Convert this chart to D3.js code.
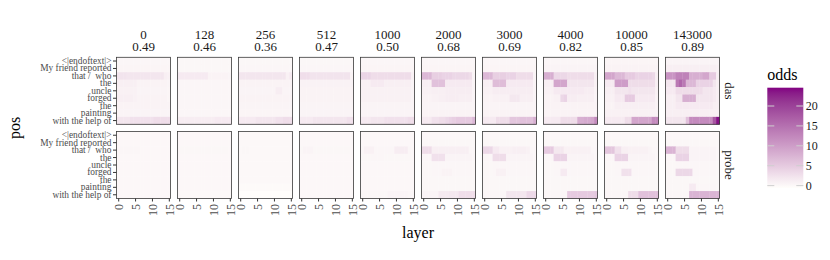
<!DOCTYPE html>
<html><head><meta charset="utf-8">
<script src="https://cdn.jsdelivr.net/npm/d3@7"></script>
<style>
body{margin:0;background:#fff}
text{font-family:"Liberation Serif","Times New Roman",serif}
</style>
</head><body>
<svg id="chart" width="830" height="260"></svg>
<script>
// ---------------- data ----------------
const steps = ["0","128","256","512","1000","2000","3000","4000","10000","143000"];
const accuracy = ["0.49","0.46","0.36","0.47","0.50","0.68","0.69","0.82","0.85","0.89"];
const methods = ["das","probe"];
const positions = ["<|endoftext|>","My friend reported","that /\u00a0 who","the","uncle","forged","the","painting","with the help of"];
const layers = [0,1,2,3,4,5,6,7,8,9,10,11,12,13,14,15];
const layerTicks = [0,5,10,15];
const legendTicks = [0,5,10,15,20];
const oddsRange = [-0.6, 24.6];

// das rows (9 positions x 16 layers)
const das_0 = [
 [0.3,0.3,0.3,0.3,0.3,0.3,0.3,0.3,0.3,0.3,0.3,0.3,0.3,0.3,0.3,0.3],
 [0.4,0.4,0.4,0.4,0.4,0.4,0.4,0.4,0.4,0.4,0.4,0.4,0.4,0.4,0.4,0.4],
 [2.2,2.2,2.2,2,2,2,2,2,2,2,2,2,2,2,1,0.8],
 [1,1,1,1,1,1,0.6,0.6,0.6,0.6,0.6,0.6,0.6,0.6,0.6,0.5],
 [0.8,0.8,0.8,0.8,0.8,0.8,0.5,0.5,0.5,0.5,0.5,0.5,0.5,0.5,0.5,0.4],
 [1,1,1,1,1,0.8,0.6,0.6,0.6,0.6,0.6,0.6,0.6,0.6,0.6,0.4],
 [0.6,0.6,0.6,0.6,0.6,0.6,0.6,0.6,0.6,0.6,0.6,0.6,0.6,0.6,0.6,0.6],
 [0.5,0.5,0.5,0.5,0.5,0.5,0.5,0.5,0.5,0.5,0.5,0.5,0.5,0.5,0.5,0.5],
 [2,2,2,2,2.5,2.5,2.5,2.5,2.5,2.5,2.5,3,3,3,3,3]
];
const das_128 = [
 [0.2,0.2,0.2,0.2,0.2,0.2,0.2,0.2,0.2,0.2,0.2,0.2,0.2,0.2,0.2,0.2],
 [0.2,0.2,0.2,0.2,0.2,0.2,0.2,0.2,0.2,0.2,0.2,0.2,0.2,0.2,0.2,0.2],
 [1.5,1.5,1.5,1.5,1.5,1.5,1.5,1.5,1.5,0.6,0.6,0.6,0.6,0.6,0.6,0.5],
 [0.3,0.3,0.3,0.3,0.3,0.3,0.3,0.3,0.3,0.3,0.3,0.3,0.3,0.3,0.3,0.3],
 [0.3,0.3,0.3,0.3,0.3,0.3,0.3,0.3,0.3,0.3,0.3,0.3,0.3,0.3,0.3,0.3],
 [0.3,0.3,0.3,0.3,0.3,0.3,0.3,0.3,0.3,0.3,0.3,0.3,0.3,0.3,0.3,0.3],
 [0.3,0.3,0.3,0.3,0.3,0.3,0.3,0.3,0.3,0.3,0.3,0.3,0.3,0.3,0.3,0.3],
 [0.3,0.3,0.3,0.3,0.3,0.3,0.3,0.3,0.3,0.3,0.3,0.3,0.3,0.3,0.3,0.3],
 [1.2,1.2,1.2,1.2,1.2,1.2,1.2,1.2,1.2,1.2,1.2,1.5,1.5,1.5,1.5,1.5]
];
const das_256 = [
 [0.2,0.2,0.2,0.2,0.2,0.2,0.2,0.2,0.2,0.2,0.2,0.2,0.2,0.2,0.2,0.2],
 [0.3,0.3,0.3,0.3,0.3,0.3,0.3,0.3,0.3,0.3,0.3,0.3,0.3,0.3,0.3,0.3],
 [2,2,2,2,2,2,2,2,2,2,2,2,2,2,0.8,1.5],
 [0.6,0.6,0.6,0.6,0.6,0.6,0.6,0.6,0.6,0.6,0.6,0.6,0.6,0.6,0.6,0.6],
 [0.5,0.5,0.5,0.5,0.5,0.5,0.5,0.5,0.5,0.5,0.5,1.2,1.2,0.5,0.5,0.5],
 [0.6,0.6,0.6,0.6,0.6,0.6,0.6,0.6,0.6,0.6,0.6,0.6,0.6,0.6,0.6,0.6],
 [0.5,0.5,0.5,0.5,0.5,0.5,0.5,0.5,0.5,0.5,0.5,0.5,0.5,0.5,0.5,0.5],
 [0.4,0.4,0.4,0.4,0.4,0.4,0.4,0.4,0.4,0.4,0.4,0.4,0.4,0.4,0.4,0.4],
 [1.5,1.5,1.5,1.5,1.5,2,2,2,2,2,2,2.5,2.5,3,3,3]
];
const das_512 = [
 [0.2,0.2,0.2,0.2,0.2,0.2,0.2,0.2,0.2,0.2,0.2,0.2,0.2,0.2,0.2,0.2],
 [0.3,0.3,0.3,0.3,0.3,0.3,0.3,0.3,0.3,0.3,0.3,0.3,0.3,0.3,0.3,0.3],
 [2.8,2.8,2.8,2.2,2.2,2.2,2.2,2.2,2.2,2.2,2.2,2.2,2.2,2.2,2.2,0.6],
 [0.7,0.7,0.7,0.7,0.7,0.7,0.7,0.7,0.7,0.7,0.7,0.7,0.7,0.7,0.7,0.7],
 [0.6,0.6,0.6,0.6,0.6,0.6,0.6,0.6,0.6,0.6,0.6,0.6,0.6,0.6,0.6,0.6],
 [0.6,0.6,0.6,0.6,0.6,0.6,0.6,0.6,0.6,0.6,0.6,0.6,0.6,0.6,0.6,0.6],
 [0.5,0.5,0.5,0.5,0.5,0.5,0.5,0.5,0.5,0.5,0.5,0.5,0.5,0.5,0.5,0.5],
 [0.5,0.5,0.5,0.5,0.5,0.5,0.5,0.5,0.5,0.5,0.5,0.5,0.5,0.5,0.5,0.5],
 [1.5,1.5,1.5,1.5,2,2,2,2,2,2,2,2,2,2,2.5,2.5]
];
const das_1000 = [
 [0.3,0.3,0.3,0.3,0.3,0.3,0.3,0.3,0.3,0.3,0.3,0.3,0.3,0.3,0.3,0.3],
 [0.4,0.4,0.4,0.4,0.4,0.4,0.4,0.4,0.4,0.4,0.4,0.4,0.4,0.4,0.4,0.4],
 [3.8,3.8,3.8,3,3,3,3,3,3,3,3,3,3,3,3,0.8],
 [0.8,0.8,0.8,1.5,1.5,1.5,1.5,1,1,1,1,1,1,1,1,0.5],
 [0.8,0.8,0.8,0.8,0.8,0.8,0.8,0.8,0.8,0.8,0.8,0.8,0.8,0.8,0.8,0.5],
 [0.8,0.8,0.8,0.8,0.8,0.8,0.8,0.8,0.8,0.8,0.8,0.8,0.8,0.8,0.8,0.5],
 [0.5,0.5,0.5,0.5,0.5,0.5,0.5,0.5,0.5,0.5,0.5,0.5,0.5,0.5,0.5,0.5],
 [0.5,0.5,0.5,0.5,0.5,0.5,0.5,0.5,0.5,0.5,0.5,0.5,0.5,0.5,0.5,0.5],
 [1.5,1.5,1.5,2,2,2,2,2.5,2.5,2.5,2.5,2.5,2.5,2.5,3,3]
];
const das_2000 = [
 [0.3,0.3,0.3,0.3,0.3,0.3,0.3,0.3,0.3,0.3,0.3,0.3,0.3,0.3,0.3,0.3],
 [0.4,0.4,0.4,0.4,0.4,0.4,0.4,0.4,0.4,0.4,0.4,0.4,0.4,0.4,0.4,0.4],
 [7,7,7,4.5,4.5,4.5,4,4,4,3.5,3.5,3.5,3.5,3.5,3,0.5],
 [1,1,1,6,6,6,6,1.5,1.5,1.5,1.5,1.5,1.5,1.5,1.5,0.5],
 [0.8,0.8,0.8,1,1,1,1,1.2,1.2,1.2,1.2,1.2,1.2,1.2,1.2,0.5],
 [0.6,0.6,0.6,0.8,0.8,1,1,1.2,1.2,1.2,1.2,1,1,1,1,0.5],
 [0.5,0.5,0.5,0.5,0.5,0.5,0.5,0.5,0.5,0.5,0.5,0.5,0.5,0.5,0.5,0.5],
 [0.6,0.6,0.6,0.6,0.6,0.6,0.6,0.6,0.6,0.6,0.6,0.6,0.6,0.6,0.6,0.6],
 [1.5,1.5,1.5,2.5,2.5,3,3,3.5,4,4.5,5,5,5,5,5,7]
];
const das_3000 = [
 [0.3,0.3,0.3,0.3,0.3,0.3,0.3,0.3,0.3,0.3,0.3,0.3,0.3,0.3,0.3,0.3],
 [0.4,0.4,0.4,0.4,0.4,0.4,0.4,0.4,0.4,0.4,0.4,0.4,0.4,0.4,0.4,0.4],
 [7,7,7,4.5,4.5,4.5,4.5,4,4,4,3,3,3,3,3,0.5],
 [1,1,1,6.5,6.5,6.5,6.5,1.5,1.5,1.5,1.5,1.5,1.5,1.5,1.5,0.5],
 [0.8,0.8,0.8,1.2,1.2,1.2,1.2,1.2,1.2,1.2,1.2,1.2,1.2,1.2,1.2,0.5],
 [0.6,0.6,0.6,0.8,0.8,0.8,0.8,0.8,1.8,1.8,1.8,1,1,1,1,0.5],
 [0.5,0.5,0.5,0.5,0.5,0.5,0.5,0.5,0.5,0.5,0.5,0.5,0.5,0.5,0.5,0.5],
 [0.6,0.6,0.6,0.6,0.6,0.6,0.6,0.6,0.6,0.6,0.6,0.6,0.6,0.6,0.6,0.6],
 [1.5,1.5,1.5,1.5,3,3,3,3,5.5,5.5,5.5,6,6,6,6,8]
];
const das_4000 = [
 [0.3,0.3,0.3,0.3,0.3,0.3,0.3,0.3,0.3,0.3,0.3,0.3,0.3,0.3,0.3,0.3],
 [0.5,0.5,0.5,0.5,0.5,0.5,0.5,0.5,0.5,0.5,0.5,0.5,0.5,0.5,0.5,0.5],
 [8,8,8,3.5,3.5,3.5,3.5,3,3,3,3,3,3,3,3,1],
 [1,1,1,9,9,9,9,2,2,2,2,2,2,2,2,0.8],
 [0.8,0.8,0.8,1.5,1.5,1.5,1.5,1.5,1.5,1.5,1.5,1.5,1.2,1.2,1.2,0.6],
 [0.6,0.6,0.6,0.8,0.8,3.5,4,1.2,1.2,1.2,1,1,1,1,1,0.5],
 [0.6,0.6,0.6,0.6,0.6,0.6,0.6,0.6,0.6,0.6,0.6,0.6,0.6,0.6,0.6,0.6],
 [0.6,0.6,0.6,0.6,0.6,0.6,0.6,0.6,0.6,0.6,0.6,0.6,0.6,0.6,0.6,0.6],
 [1.5,1.5,1.5,1.5,1.5,3,3,3,3,3,8,8,8.5,8.5,9,12]
];
const das_10000 = [
 [0.4,0.4,0.4,0.4,0.4,0.4,0.4,0.4,0.4,0.4,0.4,0.4,0.4,0.4,0.4,0.4],
 [0.6,0.6,0.6,0.6,0.6,0.6,0.6,0.6,0.6,0.6,0.6,0.6,0.6,0.6,0.6,0.6],
 [9,9,9,7,7,7,5,5,5,4,4,4,4,4,3.5,1],
 [1.5,1.5,1.5,10,10,10,10,3,3,3,3,3,3,3,3,1],
 [1,1,1,2,2,2,2,2.5,2,2,2,2,2,2,2,0.8],
 [0.8,0.8,0.8,1.5,1.5,1.5,5,5,5,1.5,1.5,1.5,1.5,1.5,1.5,0.6],
 [0.6,0.6,0.6,1,1,1,1,1,1,1,1,1,1,1,1,0.6],
 [0.8,0.8,0.8,0.8,0.8,0.8,0.8,0.8,0.8,0.8,0.8,0.8,0.8,0.8,0.8,0.8],
 [1.5,1.5,1.5,1.5,1.5,1.5,3,3,9,9,9,9,9,9,12,12]
];
const das_143000 = [
 [0.5,0.5,0.5,0.5,0.5,0.5,0.5,0.5,0.5,0.5,0.5,0.5,0.5,0.5,0.5,0.5],
 [1,1,1,1,1,1,1,1,1,1,1,1,1,1,1,0.8],
 [11,11,11,13,13,13,13,8,8,8,8,9,9,5,5,1],
 [2,2,2,14,16,14,7,7,7,4,4,4,4,4,2,1],
 [1.5,1.5,1.5,3,3,3,3,3,3,3,3,2,2,2,1.5,1],
 [1,1,1,2,2,8,8,8,8,2,2,2,2,2,1.5,1],
 [1,1,1,1.5,1.5,1.5,1.5,1.5,1.5,1.5,1.5,1.5,1.5,1.5,1,1],
 [1,1,1,1,1,1,1,1,1,1,1,1,1,1,1,1],
 [2,2,2,2,2,2,6,12,12,12,12,12,12,12,18,24]
];

// probe rows (9 positions x 16 layers)
const probe_0 = [
 [0.1,0.1,0.1,0.1,0.1,0.1,0.1,0.1,0.1,0.1,0.1,0.1,0.1,0.1,0.1,0.1],
 [0.1,0.1,0.1,0.1,0.1,0.1,0.1,0.1,0.1,0.1,0.1,0.1,0.1,0.1,0.1,0.1],
 [0.1,0.3,0.3,0.3,0.3,0.3,0.3,0.1,0.1,0.1,0.1,0.1,0.1,0.1,0.1,0.1],
 [0.1,0.1,0.1,0.1,0.1,0.1,0.1,0.1,0.1,0.1,0.1,0.1,0.1,0.1,0.1,0.1],
 [0.1,0.1,0.1,0.1,0.1,0.1,0.1,0.1,0.1,0.1,0.1,0.1,0.1,0.1,0.1,0.1],
 [0.1,0.1,0.1,0.1,0.1,0.1,0.1,0.1,0.1,0.1,0.1,0.1,0.1,0.1,0.1,0.1],
 [0.1,0.1,0.1,0.1,0.1,0.1,0.1,0.1,0.1,0.1,0.1,0.1,0.1,0.1,0.1,0.1],
 [0.1,0.1,0.1,0.1,0.1,0.1,0.1,0.1,0.1,0.1,0.1,0.1,0.1,0.1,0.1,0.1],
 [0.1,0.1,0.1,0.1,0.1,0.1,0.1,0.1,0.1,0.1,0.1,0.1,0.1,0.1,0.1,0.1]
];
const probe_128 = [
 [0.1,0.1,0.1,0.1,0.1,0.1,0.1,0.1,0.1,0.1,0.1,0.1,0.1,0.1,0.1,0.1],
 [0.1,0.1,0.1,0.1,0.1,0.1,0.1,0.1,0.1,0.1,0.1,0.1,0.1,0.1,0.1,0.1],
 [0.2,0.2,0.2,0.2,0.2,0.2,0.2,0.2,0.2,0.2,0.2,0.2,0.2,0.2,0.2,0.1],
 [0.1,0.1,0.1,0.1,0.1,0.1,0.1,0.1,0.1,0.1,0.1,0.1,0.1,0.1,0.1,0.1],
 [0.1,0.1,0.1,0.1,0.1,0.1,0.1,0.1,0.1,0.1,0.1,0.1,0.1,0.1,0.1,0.1],
 [0.1,0.1,0.1,0.1,0.1,0.1,0.1,0.1,0.1,0.1,0.1,0.1,0.1,0.1,0.1,0.1],
 [0.1,0.1,0.1,0.1,0.1,0.1,0.1,0.1,0.1,0.1,0.1,0.1,0.1,0.1,0.1,0.1],
 [0.1,0.1,0.1,0.1,0.1,0.1,0.1,0.1,0.1,0.1,0.1,0.1,0.1,0.1,0.1,0.1],
 [0.0,0.0,0.0,0.0,0.0,0.0,0.0,0.0,0.0,0.0,0.0,0.0,0.0,0.0,0.0,0.0]
];
const probe_256 = [
 [0.0,0.0,0.0,0.0,0.0,0.0,0.0,0.0,0.0,0.0,0.0,0.0,0.0,0.0,0.0,0.0],
 [0.0,0.0,0.0,0.0,0.0,0.0,0.0,0.0,0.0,0.0,0.0,0.0,0.0,0.0,0.0,0.0],
 [0.0,0.2,0.2,0.0,0.0,0.0,0.0,0.0,0.0,0.0,0.0,0.0,0.0,0.0,0.0,0.0],
 [0.0,0.0,0.0,0.0,0.0,0.0,0.0,0.0,0.0,0.0,0.0,0.0,0.0,0.0,0.0,0.0],
 [0.0,0.0,0.0,0.0,0.0,0.0,0.0,0.0,0.0,0.0,0.0,0.0,0.0,0.0,0.0,0.0],
 [0.0,0.0,0.0,0.0,0.0,0.0,0.0,0.0,0.0,0.0,0.0,0.0,0.0,0.0,0.0,0.0],
 [0.0,0.0,0.0,0.0,0.0,0.0,0.0,0.0,0.0,0.0,0.0,0.0,0.0,0.0,0.0,0.0],
 [-0.2,-0.2,-0.2,-0.2,-0.2,-0.2,-0.2,-0.2,-0.2,-0.2,-0.2,-0.2,-0.2,-0.2,-0.2,-0.2],
 [-0.5,-0.5,-0.5,-0.5,-0.5,-0.5,-0.5,-0.5,-0.5,-0.5,-0.5,-0.5,-0.5,-0.5,-0.5,-0.5]
];
const probe_512 = [
 [0.1,0.1,0.1,0.1,0.1,0.1,0.1,0.1,0.1,0.1,0.1,0.1,0.1,0.1,0.1,0.1],
 [0.1,0.1,0.1,0.1,0.1,0.1,0.1,0.1,0.1,0.1,0.1,0.1,0.1,0.1,0.1,0.1],
 [0.2,0.5,0.5,0.5,0.2,0.2,0.2,0.2,0.2,0.2,0.2,0.2,0.2,0.2,0.2,0.1],
 [0.1,0.1,0.1,0.1,0.1,0.1,0.1,0.1,0.1,0.1,0.1,0.1,0.1,0.1,0.1,0.1],
 [0.1,0.1,0.1,0.1,0.1,0.1,0.1,0.1,0.1,0.1,0.1,0.1,0.1,0.1,0.1,0.1],
 [0.1,0.1,0.1,0.1,0.1,0.1,0.1,0.1,0.1,0.1,0.1,0.1,0.1,0.1,0.1,0.1],
 [0.1,0.1,0.1,0.1,0.1,0.1,0.1,0.1,0.1,0.1,0.1,0.1,0.1,0.1,0.1,0.1],
 [0.1,0.1,0.1,0.1,0.1,0.1,0.1,0.1,0.1,0.1,0.1,0.1,0.1,0.1,0.1,0.1],
 [0.1,0.1,0.1,0.1,0.1,0.1,0.1,0.1,0.1,0.1,0.1,0.1,0.1,0.1,0.1,0.1]
];
const probe_1000 = [
 [0.1,0.1,0.1,0.1,0.1,0.1,0.1,0.1,0.1,0.1,0.1,0.1,0.1,0.1,0.1,0.1],
 [0.1,0.1,0.1,0.1,0.1,0.1,0.1,0.1,0.1,0.1,0.1,0.1,0.1,0.1,0.1,0.1],
 [0.3,0.8,0.8,0.8,0.3,0.3,0.3,0.3,0.3,0.3,1.2,1.2,1.2,1.2,0.3,0.1],
 [0.2,0.2,0.2,0.3,0.3,0.3,0.3,0.2,0.2,0.2,0.2,0.2,0.2,0.2,0.2,0.1],
 [0.1,0.1,0.1,0.1,0.1,0.1,0.1,0.1,0.1,0.1,0.1,0.1,0.1,0.1,0.1,0.1],
 [0.1,0.1,0.1,0.1,0.1,0.1,0.1,0.1,0.1,0.1,0.1,0.1,0.1,0.1,0.1,0.1],
 [0.1,0.1,0.1,0.1,0.1,0.1,0.1,0.1,0.1,0.1,0.1,0.1,0.1,0.1,0.1,0.1],
 [0.1,0.1,0.1,0.1,0.1,0.1,0.1,0.1,0.1,0.1,0.1,0.1,0.1,0.1,0.1,0.1],
 [0.2,0.2,0.2,0.2,0.2,0.2,0.2,0.2,0.5,0.5,0.5,0.5,0.5,0.5,0.3,0.3]
];
const probe_2000 = [
 [0.1,0.1,0.1,0.1,0.1,0.1,0.1,0.1,0.1,0.1,0.1,0.1,0.1,0.1,0.1,0.1],
 [0.2,0.2,0.2,0.2,0.2,0.2,0.2,0.2,0.2,0.2,0.2,0.2,0.2,0.2,0.2,0.2],
 [3,3,3,1,1,1,1,1,1,1,1,1,1,1,0.3,0.3],
 [0.3,0.3,0.3,2.5,2.5,2.5,2.5,0.5,0.5,0.5,0.5,0.5,0.5,0.5,0.5,0.3],
 [0.2,0.2,0.2,0.3,0.3,0.3,0.3,0.3,0.3,0.3,0.3,0.3,0.3,0.3,0.3,0.2],
 [0.2,0.2,0.2,0.3,0.3,0.3,0.6,0.6,0.6,0.3,0.3,0.3,0.3,0.3,0.3,0.2],
 [0.2,0.2,0.2,0.2,0.2,0.2,0.2,0.2,0.2,0.2,0.2,0.2,0.2,0.2,0.2,0.2],
 [0.2,0.2,0.2,0.2,0.2,0.2,0.2,0.2,0.2,0.2,0.2,0.2,0.2,0.2,0.2,0.2],
 [0.5,0.5,0.5,0.5,0.5,1.6,1.6,1.6,1.8,1.8,1.8,2.8,2.8,2.8,2.8,2.8]
];
const probe_3000 = [
 [0.1,0.1,0.1,0.1,0.1,0.1,0.1,0.1,0.1,0.1,0.1,0.1,0.1,0.1,0.1,0.1],
 [0.2,0.2,0.2,0.2,0.2,0.2,0.2,0.2,0.2,0.2,0.2,0.2,0.2,0.2,0.2,0.2],
 [3.5,3.5,3.5,1.5,1.5,0.8,0.8,0.8,0.8,1,1,1,1,0.8,0.3,0.3],
 [0.3,0.3,0.3,3,3,3,3,0.5,0.5,0.5,0.5,0.5,0.5,0.5,0.5,0.3],
 [0.2,0.2,0.2,0.3,0.3,0.3,0.3,0.3,0.3,0.3,0.3,0.3,0.3,0.3,0.3,0.2],
 [0.2,0.2,0.2,0.3,0.8,0.8,0.8,0.3,0.3,0.3,0.3,0.3,0.3,0.3,0.3,0.2],
 [0.2,0.2,0.2,0.2,0.2,0.2,0.2,0.2,0.2,0.2,0.2,0.2,0.2,0.2,0.2,0.2],
 [0.2,0.2,0.2,0.2,0.2,0.2,0.2,0.2,0.2,0.2,0.2,0.2,0.2,0.2,0.2,0.2],
 [0.3,0.3,0.3,0.3,0.3,0.3,0.3,2,2,2,2,2,2,3.5,3.5,3.5]
];
const probe_4000 = [
 [0.1,0.1,0.1,0.1,0.1,0.1,0.1,0.1,0.1,0.1,0.1,0.1,0.1,0.1,0.1,0.1],
 [0.2,0.2,0.2,0.2,0.2,0.2,0.2,0.2,0.2,0.2,0.2,0.2,0.2,0.2,0.2,0.2],
 [5,5,5,1.8,1.8,1.8,0.8,0.8,0.8,0.8,0.8,0.8,0.8,0.8,0.3,0.3],
 [0.3,0.3,0.3,4,4,4,4,0.5,0.5,0.5,0.5,0.5,0.5,0.5,0.5,0.3],
 [0.2,0.2,0.2,0.3,0.3,0.3,0.3,0.3,0.3,0.3,0.3,0.3,0.3,0.3,0.3,0.2],
 [0.2,0.2,0.2,0.3,0.3,1.5,1.5,0.3,0.3,0.3,0.3,0.3,0.3,0.3,0.3,0.2],
 [0.2,0.2,0.2,0.2,0.2,0.2,0.2,0.2,0.2,0.2,0.2,0.2,0.2,0.2,0.2,0.2],
 [0.2,0.2,0.2,0.2,0.2,0.2,0.2,0.2,0.2,0.2,0.2,0.2,0.2,0.2,0.2,0.2],
 [0.3,0.3,0.3,0.3,0.3,0.3,0.3,5,5,5,5,5,5,5,5,5.5]
];
const probe_10000 = [
 [0.1,0.1,0.1,0.1,0.1,0.1,0.1,0.1,0.1,0.1,0.1,0.1,0.1,0.1,0.1,0.1],
 [0.2,0.2,0.2,0.2,0.2,0.2,0.2,0.2,0.2,0.2,0.2,0.2,0.2,0.2,0.2,0.2],
 [5.5,5.5,5.5,2.5,2.5,1,1,0.8,0.8,0.8,0.8,0.8,0.8,0.5,0.3,0.3],
 [0.3,0.3,0.3,4,4,4,4,0.5,0.5,0.5,0.5,0.5,0.5,0.5,0.5,0.3],
 [0.2,0.2,0.2,0.3,0.3,0.3,0.3,0.3,0.3,0.3,0.3,0.3,0.3,0.3,0.3,0.2],
 [0.2,0.2,0.2,0.3,0.3,2.5,2.5,2.5,0.3,0.3,0.3,0.3,0.3,0.3,0.3,0.2],
 [0.2,0.2,0.2,0.2,0.2,0.2,0.2,0.2,0.2,0.2,0.2,0.2,0.2,0.2,0.2,0.2],
 [0.2,0.2,0.2,0.2,0.2,0.2,0.2,0.2,0.2,0.2,0.2,0.2,0.2,0.2,0.2,0.2],
 [0.3,0.3,0.3,0.3,0.3,0.3,0.3,3,3,3,6,6,6,6,6,6]
];
const probe_143000 = [
 [0.1,0.1,0.1,0.1,0.1,0.1,0.1,0.1,0.1,0.1,0.1,0.1,0.1,0.1,0.1,0.1],
 [0.2,0.2,0.2,0.2,0.2,0.2,0.2,0.2,0.2,0.2,0.2,0.2,0.2,0.2,0.2,0.2],
 [7.5,7.5,7.5,3,3,3,3,0.5,0.5,0.5,0.5,0.5,0.5,0.5,0.5,0.3],
 [0.3,0.3,0.3,4,4,4,4,0.5,0.5,0.5,0.5,0.5,0.5,0.5,0.5,0.3],
 [0.2,0.2,0.2,0.3,0.3,0.3,0.3,0.3,0.3,0.3,0.3,0.3,0.3,0.3,0.3,0.2],
 [0.2,0.2,0.2,3.5,3.5,3.5,3.5,3.5,0.3,0.3,0.3,0.3,0.3,0.3,0.3,0.2],
 [0.2,0.2,0.2,0.2,0.2,0.2,0.2,0.2,0.2,0.2,0.2,0.2,0.2,0.2,0.2,0.2],
 [0.2,0.2,0.2,0.2,0.2,0.2,0.2,1.5,1.5,0.3,0.3,0.3,0.3,0.3,0.3,0.2],
 [0.3,0.3,0.3,0.3,0.3,0.3,0.3,7.5,7.5,7.5,7.5,7.5,7.5,7.5,7.5,7.5]
];

const dasPanels = [das_0,das_128,das_256,das_512,das_1000,das_2000,das_3000,das_4000,das_10000,das_143000];
const probePanels = [probe_0,probe_128,probe_256,probe_512,probe_1000,probe_2000,probe_3000,probe_4000,probe_10000,probe_143000];
const panelsByMethod = {das: dasPanels, probe: probePanels};

// ---------------- drawing ----------------
const svg = d3.select("#chart");
const color = d3.scaleLinear().domain(oddsRange).range(["#fffefb", "#820082"]).interpolate(d3.interpolateLab);

const colScale = d3.scaleBand().domain(steps).range([116.5, 719.5]).paddingInner(7/61);
const rowScale = d3.scaleBand().domain(methods).range([57.3, 198.5]).paddingInner(7.2/74.2);
const bw = colScale.bandwidth(), bh = rowScale.bandwidth();
const x = d3.scaleLinear().domain([-0.5, 15.5]).range([0, bw]);
const y = d3.scaleBand().domain(positions.map((d,i)=>i)).range([0, bh]);
const cw = x(1) - x(0);

methods.forEach((m, mi) => {
  steps.forEach((s, si) => {
    const g = svg.append("g").attr("transform", `translate(${colScale(s)},${rowScale(m)})`);
    const mat = panelsByMethod[m][si];
    const cells = [];
    mat.forEach((row, ri) => row.forEach((v, li) => cells.push({ri, li: layers[li], v})));
    g.selectAll("rect.cell").data(cells).join("rect")
      .attr("x", d => x(d.li - 0.5))
      .attr("y", d => y(d.ri))
      .attr("width", cw + 0.35)
      .attr("height", y.bandwidth() + 0.35)
      .attr("fill", d => color(d.v));
    g.append("rect").attr("width", bw).attr("height", bh)
      .attr("fill", "none").attr("stroke", "#3a3a3a").attr("stroke-width", 0.8);

    if (si === 0) {
      const ax = g.append("g").call(d3.axisLeft(y).tickSize(3.5).tickPadding(1.5).tickFormat(i => positions[i]));
      ax.select(".domain").remove();
      ax.selectAll("line").attr("stroke", "#333");
      ax.selectAll("text").attr("font-size", 9.4).attr("fill", "#4d4d4d")
        .style("font-family", '"Liberation Serif", serif').style("white-space", "pre");
    }
    if (mi === methods.length - 1) {
      const ax = g.append("g").attr("transform", `translate(0,${bh})`)
        .call(d3.axisBottom(x).tickValues(layerTicks).tickSize(3).tickFormat(d3.format("d")));
      ax.select(".domain").remove();
      ax.selectAll("line").attr("stroke", "#333");
      ax.selectAll("text").attr("font-size", 12).attr("fill", "#4d4d4d")
        .style("font-family", '"Liberation Serif", serif')
        .attr("transform", "rotate(-90)").attr("x", -5.5).attr("y", 0).attr("dy", "0.35em")
        .attr("text-anchor", "end");
    }
    if (mi === 0) {
      const cx = bw / 2;
      g.append("text").attr("x", cx).attr("y", -18.8).attr("text-anchor", "middle")
        .attr("font-size", 13).attr("fill", "#1a1a1a").text(s);
      g.append("text").attr("x", cx).attr("y", -6.6).attr("text-anchor", "middle")
        .attr("font-size", 13).attr("fill", "#1a1a1a").text(accuracy[si]);
    }
    if (si === steps.length - 1) {
      g.append("text").attr("transform", `translate(${bw + 5.5},${bh / 2}) rotate(90)`)
        .attr("text-anchor", "middle").attr("font-size", 13).attr("fill", "#1a1a1a").text(m);
    }
  });
});

// axis titles
svg.append("text").attr("x", (colScale.range()[0] + colScale.range()[1]) / 2).attr("y", 238)
  .attr("text-anchor", "middle").attr("font-size", 16).attr("fill", "#000").text("layer");
svg.append("text").attr("transform", `translate(20,${(rowScale.range()[0] + rowScale.range()[1]) / 2}) rotate(-90)`)
  .attr("text-anchor", "middle").attr("font-size", 16).attr("fill", "#000").text("pos");

// legend
const ly = d3.scaleLinear().domain(oddsRange).range([188, 87.7]);
const defs = svg.append("defs");
const grad = defs.append("linearGradient").attr("id", "oddsGrad").attr("x1", 0).attr("x2", 0).attr("y1", 1).attr("y2", 0);
d3.range(0, 1.0001, 0.05).forEach(t => {
  grad.append("stop").attr("offset", t).attr("stop-color", color(oddsRange[0] + t * (oddsRange[1] - oddsRange[0])));
});
const lx = 767.3, lw = 36;
svg.append("text").attr("x", lx).attr("y", 80).attr("font-size", 16).attr("fill", "#000").text("odds");
svg.append("rect").attr("x", lx).attr("y", ly(oddsRange[1])).attr("width", lw)
  .attr("height", ly(oddsRange[0]) - ly(oddsRange[1])).attr("fill", "url(#oddsGrad)");
const lg = svg.append("g");
legendTicks.forEach(t => {
  lg.append("line").attr("x1", lx).attr("x2", lx + 7).attr("y1", ly(t)).attr("y2", ly(t))
    .attr("stroke", "#cfcfcf").attr("stroke-width", 1);
  lg.append("line").attr("x1", lx + lw - 7).attr("x2", lx + lw).attr("y1", ly(t)).attr("y2", ly(t))
    .attr("stroke", "#cfcfcf").attr("stroke-width", 1);
  lg.append("text").attr("x", lx + lw + 2.5).attr("y", ly(t)).attr("dy", "0.35em")
    .attr("font-size", 12).attr("fill", "#1a1a1a").text(t);
});
</script>
</body></html>
